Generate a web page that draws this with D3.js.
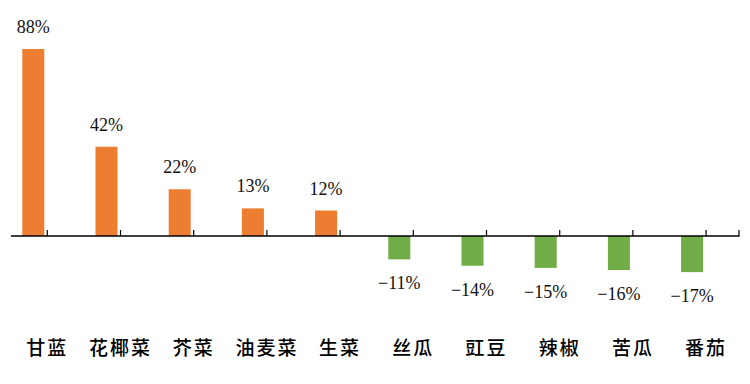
<!DOCTYPE html>
<html><head><meta charset="utf-8">
<script src="https://cdn.jsdelivr.net/npm/d3@7"></script>
<style>body{margin:0;background:#fff}svg{display:block}</style>
</head><body>
<svg id="c" width="750" height="384"></svg>
<script>
const categories = ["甘蓝","花椰菜","芥菜","油麦菜","生菜","丝瓜","豇豆","辣椒","苦瓜","番茄"];
const values = [88, 42, 22, 13, 12, -11, -14, -15, -16, -17];
const valueLabels = ["88%","42%","22%","13%","12%","−11%","−14%","−15%","−16%","−17%"];

const svg = d3.select("#c");
const x = d3.scaleBand().domain(categories).range([-25.9, 706.1]).paddingInner(0).paddingOuter(0);
const y = d3.scaleLinear().domain([0, 88]).range([236, 49]);
const bw = 22;
const barCenter = c => x(c) + x.bandwidth() - 14;
const tickPos = c => x(c) + x.bandwidth();

// bars
svg.selectAll("rect.bar").data(values).join("rect")
  .attr("x", (d,i) => barCenter(categories[i]) - bw/2)
  .attr("width", bw)
  .attr("y", d => d >= 0 ? y(d) : y(0))
  .attr("height", d => Math.abs(y(d) - y(0)))
  .attr("fill", d => d >= 0 ? "#ED7D31" : "#70AD47");

// axis line and ticks
svg.append("line").attr("x1", 11).attr("x2", 739.5).attr("y1", y(0)).attr("y2", y(0))
  .attr("stroke", "#000").attr("stroke-width", 1.5);
const tickXs = categories.map(tickPos).concat([739]);
svg.selectAll("line.tick").data(tickXs).join("line")
  .attr("x1", d => d).attr("x2", d => d)
  .attr("y1", y(0)).attr("y2", y(0) - 6)
  .attr("stroke", "#000").attr("stroke-width", 1.2);

// value labels
svg.selectAll("text.val").data(values).join("text")
  .attr("x", (d,i) => barCenter(categories[i]))
  .attr("y", d => d >= 0 ? y(d) - 16 : y(d) + 30)
  .attr("text-anchor", "middle")
  .attr("font-family", "'Liberation Serif', serif")
  .attr("font-size", 18)
  .attr("fill", "#111")
  .text((d,i) => valueLabels[i]);

// category labels
svg.selectAll("text.cat").data(categories).join("text")
  .attr("x", c => tickPos(c))
  .attr("y", 355)
  .attr("text-anchor", "middle")
  .attr("font-family", "'Noto Sans CJK SC', sans-serif")
  .attr("font-size", 19)
  .attr("font-weight", 500)
  .attr("letter-spacing", 2)
  .attr("fill", "#000")
  .text(c => c);
</script>
</body></html>
